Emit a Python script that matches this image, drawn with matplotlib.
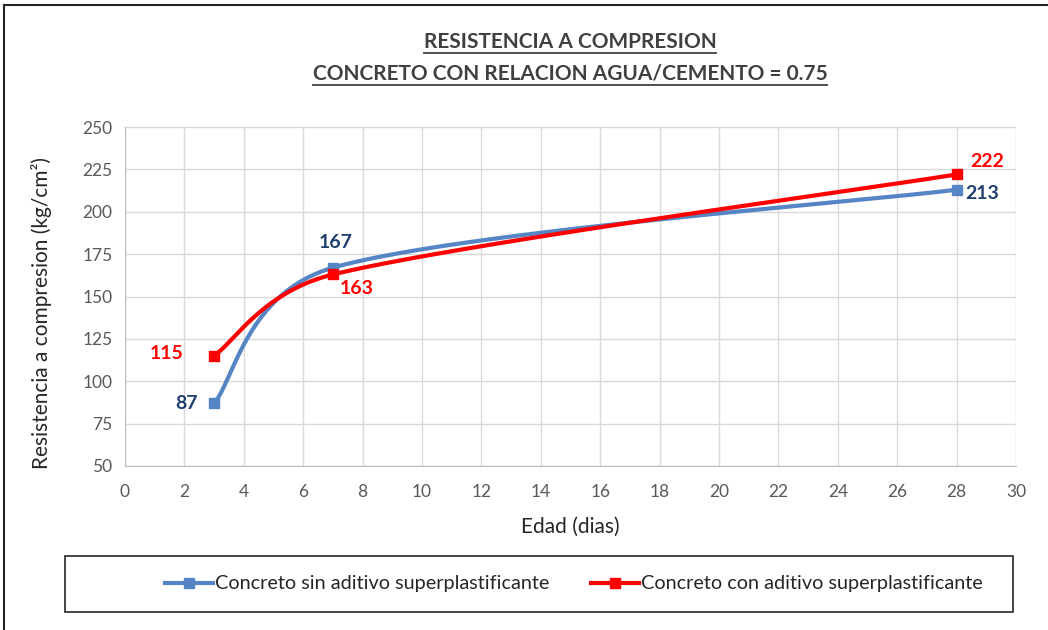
import numpy as np
import matplotlib
matplotlib.use("Agg")
import matplotlib.pyplot as plt
from matplotlib.patches import Rectangle
from matplotlib.lines import Line2D

# ---- data ----
edad = [3, 7, 28]
sin_aditivo = [87, 167, 213]
con_aditivo = [115, 163, 222]
series_names = ["Concreto sin aditivo superplastificante", "Concreto con aditivo superplastificante"]
x_ticks = list(range(0, 31, 2))
y_ticks = list(range(50, 251, 25))

plt.rcParams["font.family"] = ["Lato", "DejaVu Sans"]

BLUE = "#5585C4"
BLUE_LBL = "#1F3F6E"
RED = "#FF0000"
GRAY = "#595959"

# pixel scale of the axes (smoothing done in screen space, as Excel does)
SX = (1016 - 125) / 30.0
SY = (466 - 127) / 200.0


def smooth(xs, ys, n=100):
    """Excel-like smoothed line: Catmull-Rom Bezier handles (1/6 of neighbour span),
    each handle limited to half of its own segment length."""
    P = np.column_stack([np.asarray(xs, float) * SX, np.asarray(ys, float) * SY])
    m = len(P)
    T = [(P[min(i + 1, m - 1)] - P[max(i - 1, 0)]) / 6.0 for i in range(m)]

    def clamp(v, L):
        n_ = np.hypot(*v)
        return v if n_ <= 0.5 * L else v * (0.5 * L / n_)

    out = []
    for i in range(m - 1):
        p1, p2 = P[i], P[i + 1]
        L = np.hypot(*(p2 - p1))
        c1 = p1 + clamp(T[i], L)
        c2 = p2 - clamp(T[i + 1], L)
        t = np.linspace(0, 1, n)[:, None]
        bz = ((1 - t) ** 3) * p1 + 3 * ((1 - t) ** 2) * t * c1 + 3 * (1 - t) * t ** 2 * c2 + t ** 3 * p2
        out.append(bz if i == 0 else bz[1:])
    out = np.vstack(out)
    return out[:, 0] / SX, out[:, 1] / SY


fig = plt.figure(figsize=(10.48, 6.30), dpi=100)
ax = fig.add_axes([125 / 1048, 1 - 466 / 630, (1016 - 125) / 1048, (466 - 127) / 630])

for ys, col in [(sin_aditivo, BLUE), (con_aditivo, RED)]:
    sx, sy = smooth(edad, ys)
    ax.plot(sx, sy, color=col, lw=3, solid_capstyle="round", zorder=3)
    ax.plot(edad, ys, ls="none", marker="s", ms=7, color=col, zorder=4)

ax.set_xlim(0, 30)
ax.set_ylim(50, 250)
ax.set_xticks(x_ticks)
ax.set_yticks(y_ticks)
ax.grid(True, color="#D9D9D9", lw=1)
ax.set_axisbelow(True)
for s in ["top", "right"]:
    ax.spines[s].set_visible(False)
for s in ["left", "bottom"]:
    ax.spines[s].set_color("#BFBFBF")
ax.tick_params(length=0, labelsize=12.5, colors=GRAY)
ax.tick_params(axis="x", pad=13)
ax.tick_params(axis="y", pad=9)
ax.set_xlabel("Edad (dias)", fontsize=15, color="#262626")
ax.set_ylabel("Resistencia a compresion (kg/cm²)", fontsize=15, color="#262626")
ax.xaxis.set_label_coords((570 - 125) / 891, -(527 - 466) / 339)
ax.yaxis.set_label_coords(-(125 - 42) / 891, (466 - 313) / 339)
ax.xaxis.label.set_va("center")
ax.yaxis.label.set_va("center")

# data labels
lbl = dict(fontsize=14, fontweight="bold")
ax.annotate(str(sin_aditivo[0]), (edad[0], sin_aditivo[0]), xytext=(-12, 0), textcoords="offset points",
            ha="right", va="center", color=BLUE_LBL, **lbl)
ax.annotate(str(sin_aditivo[1]), (edad[1], sin_aditivo[1]), xytext=(2, 12), textcoords="offset points",
            ha="center", va="bottom", color=BLUE_LBL, **lbl)
ax.annotate(str(sin_aditivo[2]), (edad[2], sin_aditivo[2]), xytext=(6, -3), textcoords="offset points",
            ha="left", va="center", color=BLUE_LBL, **lbl)
ax.annotate(str(con_aditivo[0]), (edad[0], con_aditivo[0]), xytext=(-22, 2), textcoords="offset points",
            ha="right", va="center", color=RED, **lbl)
ax.annotate(str(con_aditivo[1]), (edad[1], con_aditivo[1]), xytext=(5, -10), textcoords="offset points",
            ha="left", va="center", color=RED, **lbl)
ax.annotate(str(con_aditivo[2]), (edad[2], con_aditivo[2]), xytext=(10, 9), textcoords="offset points",
            ha="left", va="center", color=RED, **lbl)

# title with underline
fig.canvas.draw()
r = fig.canvas.get_renderer()
for txt, yp in [("RESISTENCIA A COMPRESION", 42), ("CONCRETO CON RELACION AGUA/CEMENTO = 0.75", 74)]:
    t = fig.text(570 / 1048, 1 - yp / 630, txt, ha="center", va="center", fontsize=15,
                 fontweight="bold", color="#404040")
    bb = t.get_window_extent(r)
    yl = (bb.y0 - 1) / 630
    fig.add_artist(Line2D([bb.x0 / 1048, bb.x1 / 1048], [yl, yl], color="#404040", lw=1.3))

# outer frame (top & left visible)
fig.add_artist(Line2D([4 / 1048, 4 / 1048], [0, 1 - 5 / 630], color="#222222", lw=1.5))
fig.add_artist(Line2D([4 / 1048, 1], [1 - 5 / 630, 1 - 5 / 630], color="#222222", lw=1.5))

# legend box
fig.add_artist(Rectangle((65 / 1048, 1 - 612 / 630), (1013 - 65) / 1048, 56 / 630,
                         transform=fig.transFigure, fill=False, ec="#262626", lw=1.2))
handles = [Line2D([], [], color=BLUE, lw=3, marker="s", ms=7),
           Line2D([], [], color=RED, lw=3, marker="s", ms=7)]
fig.legend(handles, series_names, loc="center", bbox_to_anchor=(574 / 1048, 1 - 584 / 630),
           ncol=2, frameon=False, fontsize=14.3, handlelength=2.4, handletextpad=0.1,
           columnspacing=2.1, labelcolor="#262626")

fig.savefig("out.png", dpi=100)
